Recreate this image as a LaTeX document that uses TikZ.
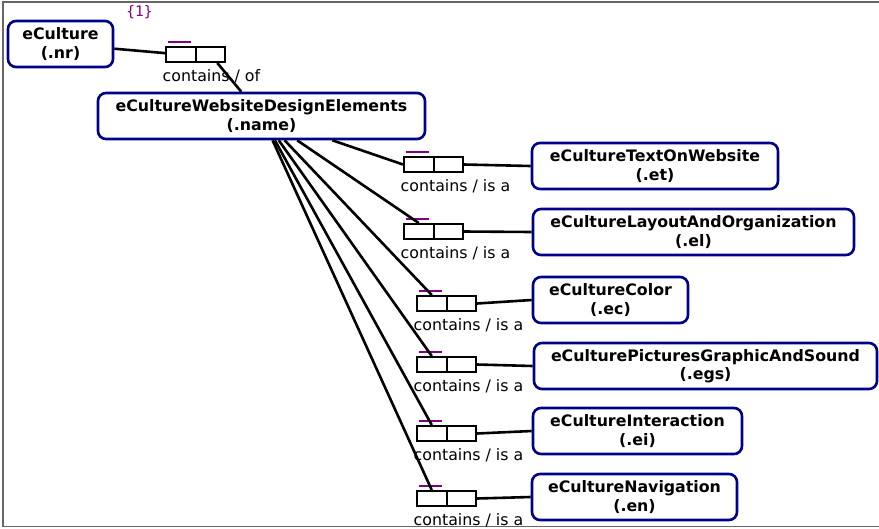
\documentclass[tikz,border=0pt]{standalone}
\usepackage{fontspec}
\setmainfont{DejaVu Sans}
\newfontfamily\monofont{DejaVu Sans Mono}
\definecolor{boxblue}{HTML}{00008B}
\definecolor{barpurple}{HTML}{800080}
\definecolor{framegray}{HTML}{666666}
\begin{document}
\begin{tikzpicture}[x=1pt,y=-1pt,
  concept/.style={draw=boxblue, line width=2.6pt, rounded corners=8pt, fill=white,
    minimum height=46pt, inner sep=0pt, align=center,
    font=\fontsize{15.8}{18.5}\selectfont\bfseries},
  cell/.style={draw=black, line width=2pt, minimum width=29.5pt, minimum height=15pt,
    inner sep=0pt, anchor=north west},
  bar/.style={draw=barpurple, line width=2pt},
  link/.style={draw=black, line width=2.6pt},
  rel/.style={anchor=base west, inner sep=0pt, font=\fontsize{15.8}{18}\selectfont}
]
\useasboundingbox (0,0) rectangle (879,528);
% frame
\draw[framegray, line width=1.2pt] (879,2) -- (3,2) -- (3,526.5) -- (879,526.5);

% concept nodes
\node[concept, minimum width=105pt] (nr)  at (60.5,44)  {eCulture\\(.nr)};
\node[concept, minimum width=327pt] (nm)  at (261.5,116) {eCultureWebsiteDesignElements\\(.name)};
\node[concept, minimum width=246pt] (et)  at (655,166)  {eCultureTextOnWebsite\\(.et)};
\node[concept, minimum width=321pt] (el)  at (693.5,232) {eCultureLayoutAndOrganization\\(.el)};
\node[concept, minimum width=155pt] (ec)  at (610.5,300) {eCultureColor\\(.ec)};
\node[concept, minimum width=343pt] (egs) at (705.5,366) {eCulturePicturesGraphicAndSound\\(.egs)};
\node[concept, minimum width=209pt] (ei)  at (637.5,431) {eCultureInteraction\\(.ei)};
\node[concept, minimum width=205pt] (en)  at (634.5,497) {eCultureNavigation\\(.en)};

% cardinality marker
\node[text=barpurple, font=\monofont\fontsize{14.5}{16}\selectfont] (card) at (139.5,12) {\{1\}};

% relation boxes: two cells, a bar above the left one, a label below
\foreach \n/\x/\y/\t in {r0/165/46/{contains / of}, r1/403/156/{contains / is a},
  r2/403/223/{contains / is a}, r3/416/295/{contains / is a},
  r4/416/356/{contains / is a}, r5/416/425/{contains / is a},
  r6/416/490/{contains / is a}}{
  \node[cell] (\n a) at (\x,\y) {};
  \node[cell] (\n b) at (\x+29.5,\y) {};
  \draw[bar] (\x+3,\y-4.5) -- (\x+26,\y-4.5);
  \node[rel] (\n l) at (\x-2.5,\y+35.5) {\t};
}

% connectors
\draw[link] (nr) -- (r0a);
\draw[link] (r0b) -- (nm);
\draw[link] (nm) -- (r1a.west);
\foreach \i in {2,...,6}{\draw[link] (nm) -- (r\i a.north);}
\draw[link] (r1b.east) -- (et.west);
\draw[link] (r2b.east) -- (el.west);
\draw[link] (r3b.east) -- (ec.west);
\draw[link] (r4b.east) -- (egs.west);
\draw[link] (r5b.east) -- (ei.west);
\draw[link] (r6b.east) -- (en.west);
\end{tikzpicture}
\end{document}
